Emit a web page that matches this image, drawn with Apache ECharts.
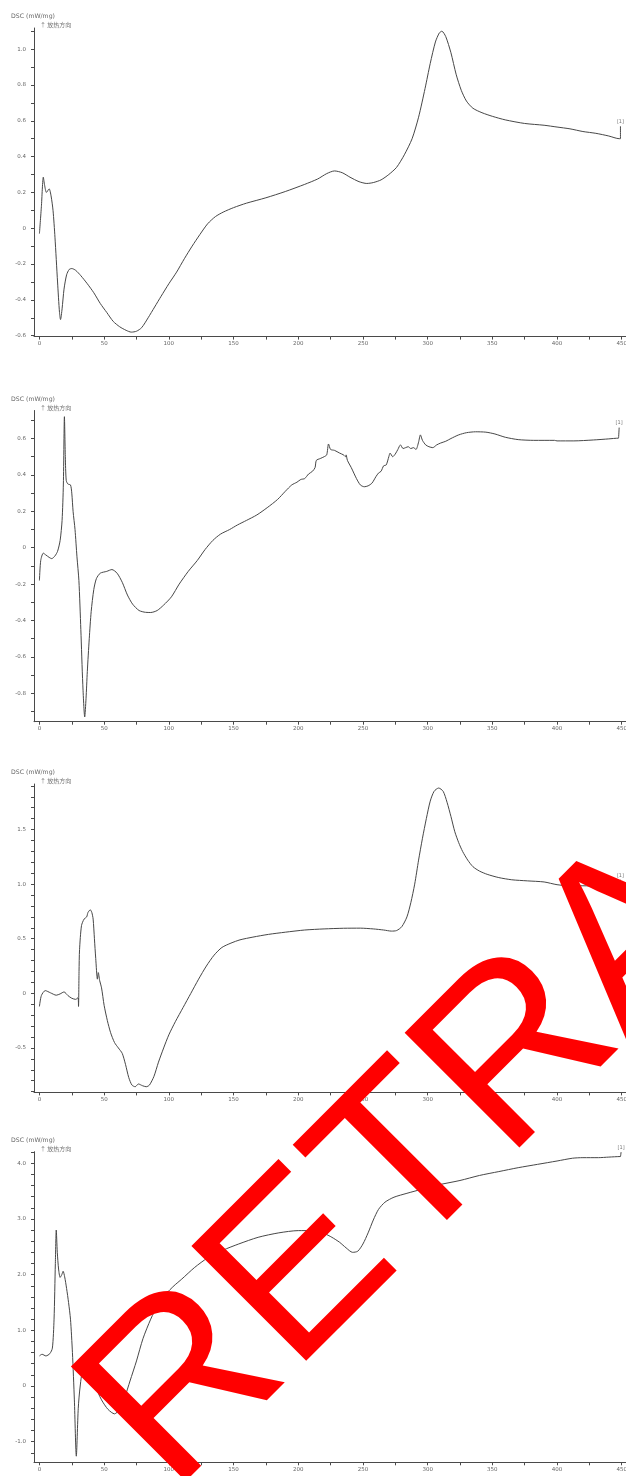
<!DOCTYPE html>
<html>
<head>
<meta charset="utf-8">
<script src="https://cdn.jsdelivr.net/npm/echarts@6/dist/echarts.min.js"></script>
<style>
html,body{margin:0;padding:0;background:#fff;}
#chart{width:626px;height:1476px;}
</style>
</head>
<body>
<div id="chart"></div>
<script>
// ---- data (temperature in °C, DSC in mW/mg) ----
const xLabelValues = [0, 50, 100, 150, 200, 250, 300, 350, 400, 450];
const xTickValues = [0, 25, 50, 75, 100, 125, 150, 175, 200, 225, 250, 275, 300, 325, 350, 375, 400, 425, 450];

const y1Labels = [-0.6, -0.4, -0.2, 0, 0.2, 0.4, 0.6, 0.8, 1.0];
const y2Labels = [-0.8, -0.6, -0.4, -0.2, 0, 0.2, 0.4, 0.6];
const y3Labels = [-0.5, 0, 0.5, 1.0, 1.5];
const y4Labels = [-1.0, 0, 1.0, 2.0, 3.0, 4.0];

const curve1 = [[0,-0.03],[1.5,0.12],[3,0.285],[4,0.24],[5.4,0.2],[7.5,0.22],[9,0.18],[10.5,0.1],[12,-0.05],[14,-0.3],[15.5,-0.47],[16.3,-0.51],[17.5,-0.45],[19,-0.34],[21,-0.26],[23,-0.23],[25,-0.225],[28,-0.235],[32,-0.265],[37,-0.31],[42,-0.36],[47,-0.42],[52,-0.47],[57,-0.52],[62,-0.55],[67,-0.57],[71,-0.58],[75,-0.575],[79,-0.555],[84,-0.5],[89,-0.44],[94,-0.38],[100,-0.31],[106,-0.245],[112,-0.17],[118,-0.1],[124,-0.035],[130,0.025],[136,0.065],[142,0.09],[150,0.115],[160,0.14],[175,0.17],[190,0.205],[205,0.245],[215,0.275],[222,0.305],[228,0.32],[234,0.31],[240,0.285],[247,0.26],[253,0.25],[258,0.255],[264,0.27],[270,0.3],[276,0.34],[282,0.41],[288,0.5],[293,0.62],[298,0.78],[302,0.92],[306,1.04],[309,1.09],[311,1.1],[314,1.07],[318,0.98],[322,0.86],[326,0.77],[330,0.71],[335,0.67],[342,0.645],[350,0.625],[360,0.605],[375,0.585],[390,0.575],[400,0.565],[410,0.555],[420,0.54],[430,0.53],[440,0.515],[448,0.5],[449,0.5],[449,0.57]];

const curve2 = [[0,-0.18],[1,-0.07],[3,-0.03],[5,-0.04],[7.5,-0.053],[9.5,-0.06],[12,-0.045],[14,-0.02],[16,0.04],[17.5,0.15],[18.5,0.35],[19.3,0.72],[20,0.5],[20.7,0.37],[22,0.35],[24,0.345],[25,0.3],[26,0.2],[27.5,0.1],[29,-0.05],[30.5,-0.18],[32,-0.45],[33.5,-0.75],[35,-0.93],[36,-0.83],[37,-0.68],[38.5,-0.5],[40,-0.35],[42,-0.23],[44,-0.17],[47,-0.14],[52,-0.13],[56,-0.12],[60,-0.14],[64,-0.19],[68,-0.26],[72,-0.31],[77,-0.345],[82,-0.355],[86,-0.356],[91,-0.345],[96,-0.315],[102,-0.27],[108,-0.2],[115,-0.13],[122,-0.07],[128,-0.01],[134,0.04],[140,0.075],[147,0.1],[153,0.125],[160,0.15],[168,0.18],[176,0.22],[184,0.265],[190,0.31],[195,0.345],[199,0.36],[202,0.375],[205,0.38],[208,0.405],[211,0.42],[213,0.44],[214,0.48],[217,0.49],[220,0.5],[222,0.51],[223.4,0.57],[225,0.54],[228,0.535],[232,0.52],[235,0.51],[236.5,0.5],[237,0.51],[238,0.48],[241,0.44],[245,0.38],[248,0.345],[251,0.335],[254,0.34],[257,0.355],[260,0.39],[262,0.41],[264,0.42],[266,0.45],[268,0.455],[270,0.5],[271,0.52],[273,0.5],[275,0.515],[277,0.54],[279,0.565],[281,0.545],[283,0.55],[285,0.555],[287,0.545],[289,0.55],[291,0.54],[293,0.58],[294.4,0.62],[296,0.59],[298.5,0.565],[301,0.555],[304,0.55],[307,0.565],[310,0.575],[314,0.585],[318,0.6],[324,0.62],[330,0.632],[337,0.637],[345,0.635],[352,0.625],[360,0.607],[370,0.594],[382,0.59],[398,0.59],[400,0.587],[413,0.587],[428,0.592],[440,0.598],[447.5,0.602],[448,0.602],[448,0.66]];

const curve3 = [[0,-0.12],[1.5,-0.02],[4.5,0.025],[8.5,0.005],[13,-0.017],[16,-0.005],[19,0.013],[22,-0.02],[25,-0.045],[28,-0.055],[29.8,-0.04],[30.2,-0.12],[30.6,0.2],[31,0.4],[32.5,0.62],[34.5,0.68],[36.5,0.7],[37.5,0.74],[39.3,0.765],[40.5,0.74],[41.5,0.68],[42.5,0.5],[43.5,0.32],[44.8,0.13],[45.5,0.19],[46.5,0.12],[48,0.05],[50,-0.11],[52.5,-0.25],[55,-0.36],[58,-0.45],[61,-0.5],[64,-0.55],[66.5,-0.65],[69,-0.77],[71.5,-0.84],[74,-0.855],[76.5,-0.83],[79.5,-0.845],[82.5,-0.855],[85,-0.84],[88.5,-0.76],[92,-0.63],[96,-0.5],[100,-0.38],[105,-0.26],[111,-0.13],[117,0.0],[123,0.13],[129,0.25],[135,0.35],[141,0.42],[148,0.46],[155,0.49],[165,0.515],[177,0.54],[190,0.56],[205,0.58],[220,0.59],[235,0.596],[248,0.597],[258,0.59],[266,0.58],[272,0.57],[276,0.575],[280,0.61],[284,0.7],[287,0.83],[290,1.0],[293,1.22],[296,1.42],[299,1.6],[302,1.76],[305,1.85],[308.5,1.88],[312,1.85],[315,1.75],[318,1.62],[321,1.48],[324,1.38],[327,1.3],[331,1.22],[335,1.16],[340,1.12],[346,1.09],[355,1.06],[365,1.04],[377,1.03],[390,1.02],[400,0.995],[410,0.985],[420,0.985],[432,0.982],[440,0.983],[448,0.986],[449,0.986],[449,1.04]];

const curve4 = [[0,0.54],[2,0.57],[5,0.54],[8,0.58],[10,0.68],[11.3,1.2],[12.3,2.2],[13,2.8],[13.8,2.4],[14.8,2.1],[16,1.95],[17.3,2.0],[18.3,2.06],[19.5,1.96],[21,1.75],[22.5,1.5],[24,1.2],[25.5,0.6],[27,-0.25],[28.5,-1.26],[30,-0.4],[31.5,0.0],[34,0.3],[38,0.25],[43,0.0],[48,-0.25],[53,-0.42],[58,-0.5],[62,-0.42],[66,-0.2],[70,0.09],[75,0.45],[80,0.85],[86,1.2],[92,1.48],[98,1.66],[104,1.8],[110,1.92],[120,2.13],[130,2.3],[142,2.44],[154,2.55],[169,2.67],[185,2.75],[200,2.79],[212,2.79],[220,2.74],[226,2.67],[232,2.58],[237,2.48],[242,2.4],[246,2.42],[250,2.55],[254,2.75],[258,2.98],[262,3.17],[267,3.3],[274,3.39],[284,3.46],[295,3.53],[308,3.61],[325,3.69],[340,3.78],[355,3.85],[370,3.92],[385,3.98],[400,4.04],[412,4.09],[420,4.1],[432,4.1],[440,4.11],[449,4.12],[449.5,4.12],[449.5,4.2]];

const curves = [curve1, curve2, curve3, curve4];
const yLabelSets = [y1Labels, y2Labels, y3Labels, y4Labels];
const yTickSteps = [0.1, 0.1, 0.1, 0.2];
const yTitle = 'DSC (mW/mg)';
const ySubTitle = '↑ 放热方向';
const endMarkText = '[1]';
const stampText = 'RETRACTED';

// ---- layout ----
const panels = [
  {top: 28,    bottom: 336.6, yMin: -0.605, yMax: 1.118, titleY: 16,    subY: 24.5},
  {top: 410.5, bottom: 721.7, yMin: -0.956, yMax: 0.754, titleY: 399.3, subY: 407.8},
  {top: 784,   bottom: 1092.4, yMin: -0.907, yMax: 1.917, titleY: 772.5, subY: 781},
  {top: 1151.7, bottom: 1462.3, yMin: -1.37, yMax: 4.207, titleY: 1140, subY: 1148.8}
];
const X_MIN = -4.2, X_MAX = 456, GRID_LEFT = 34, PX_PER_UNIT = 1.294;

function ticksBetween(min, max, step) {
  const out = [];
  const start = Math.ceil(min / step - 1e-9);
  const end = Math.floor(max / step + 1e-9);
  for (let i = start; i <= end; i++) out.push(Math.round(i * step * 1000) / 1000);
  return out;
}
const fmt = v => (Math.abs(v) < 1e-9 ? '0' : v.toFixed(1));

const axisColor = '#4a4a4a';
const labelColor = '#666';
const grids = [], xAxes = [], yAxes = [], series = [], graphics = [];

panels.forEach((p, i) => {
  grids.push({left: GRID_LEFT, width: (X_MAX - X_MIN) * PX_PER_UNIT, top: p.top, height: p.bottom - p.top,
              containLabel: false, outerBoundsMode: 'none'});
  xAxes.push({
    type: 'value', gridIndex: i, min: X_MIN, max: X_MAX,
    axisLine: {onZero: false, lineStyle: {color: axisColor, width: 1}},
    splitLine: {show: false},
    axisTick: {customValues: xTickValues, length: 3, lineStyle: {color: axisColor}},
    axisLabel: {customValues: xLabelValues, fontSize: 5.5, color: labelColor, margin: 4, fontFamily: 'DejaVu Sans', hideOverlap: false}
  });
  yAxes.push({
    type: 'value', gridIndex: i, min: p.yMin, max: p.yMax,
    axisLine: {show: true, onZero: false, lineStyle: {color: axisColor, width: 1}},
    splitLine: {show: false},
    axisTick: {show: true, customValues: ticksBetween(p.yMin, p.yMax, yTickSteps[i]), length: 3, lineStyle: {color: axisColor}},
    axisLabel: {customValues: yLabelSets[i], formatter: fmt, fontSize: 5.5, color: labelColor, margin: 8, fontFamily: 'DejaVu Sans'}
  });
  const c = curves[i];
  series.push({
    type: 'line', xAxisIndex: i, yAxisIndex: i, data: c,
    showSymbol: false, symbol: 'none', smooth: 0.25, animation: false,
    lineStyle: {color: '#474747', width: 1},
    markPoint: {
      symbol: 'circle', symbolSize: 0, animation: false,
      label: {show: true, formatter: endMarkText, position: 'top', distance: 2, fontSize: 5, color: '#777', fontFamily: 'DejaVu Sans'},
      data: [{coord: c[c.length - 1]}]
    }
  });
  graphics.push({type: 'text', x: 11, y: p.titleY, style: {text: yTitle, fontSize: 6.2, fill: '#666', fontFamily: 'DejaVu Sans', verticalAlign: 'middle', align: 'left'}});
  graphics.push({type: 'text', x: 40, y: p.subY, style: {text: ySubTitle, fontSize: 6, fill: '#777', fontFamily: 'Noto Sans CJK SC', verticalAlign: 'middle', align: 'left'}});
});

graphics.push({
  type: 'text', x: 126, y: 1449, rotation: Math.PI / 4, z: 100, silent: true,
  style: {text: stampText, fontSize: 236, fill: '#ff0000', fontFamily: 'Liberation Sans, Arial', verticalAlign: 'middle', align: 'left'}
});

const chart = echarts.init(document.getElementById('chart'), null, {renderer: 'canvas'});
chart.setOption({
  animation: false,
  backgroundColor: '#fff',
  grid: grids, xAxis: xAxes, yAxis: yAxes, series: series,
  graphic: graphics
});
</script>
</body>
</html>
